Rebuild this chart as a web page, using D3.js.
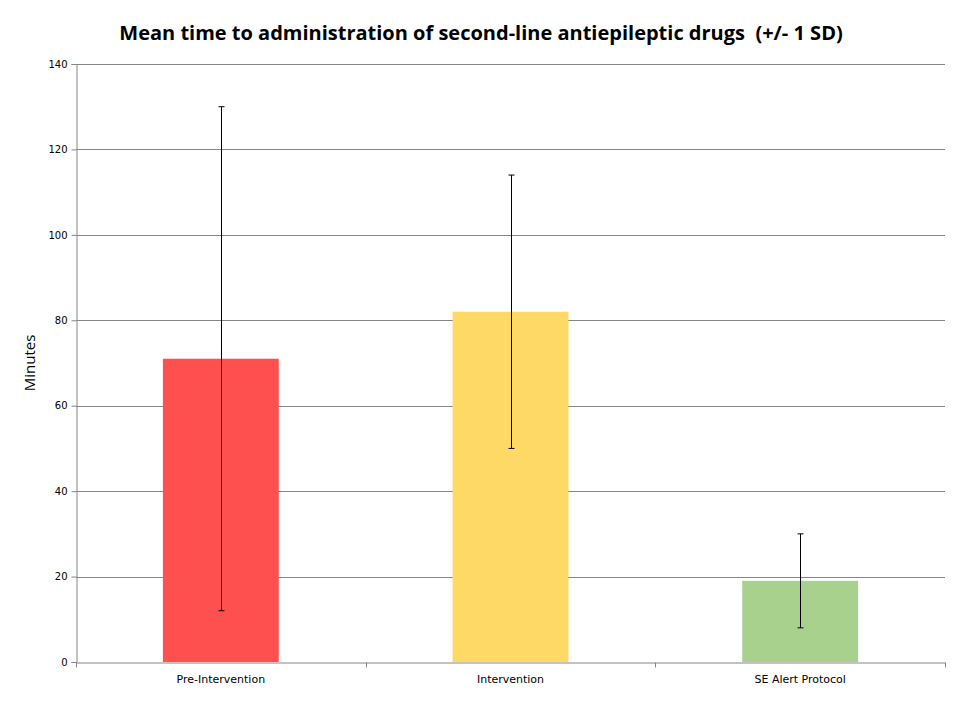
<!DOCTYPE html>
<html>
<head>
<meta charset="utf-8">
<script src="https://cdn.jsdelivr.net/npm/d3@7"></script>
<style>
  body { margin: 0; background: #fff; }
  .tick text { font-family: "DejaVu Sans", Tahoma, sans-serif; font-size: 10px; fill: #000; }
  .x-axis .tick text { font-size: 11px; }
  .domain, .tick line { stroke: #868686; }
</style>
</head>
<body>
<div id="wrapper"></div>
<script>
const categories = ["Pre-Intervention", "Intervention", "SE Alert Protocol"]
const meanMinutes = [71, 82, 19]
const sdMinutes = [59, 32, 11]
const barColors = ["#FF5050", "#FFD966", "#A9D18E"]
const yTicks = [0, 20, 40, 60, 80, 100, 120, 140]

function drawBarChart() {
    const dataset = categories.map((c, i) => ({category: c, mean: meanMinutes[i], sd: sdMinutes[i], color: barColors[i]}))

    let dimensions = {
        width: 960,
        height: 720,
        margin: {top: 64, right: 15, bottom: 58, left: 76},
    }
    dimensions.boundedWidth = dimensions.width - dimensions.margin.left - dimensions.margin.right
    dimensions.boundedHeight = dimensions.height - dimensions.margin.top - dimensions.margin.bottom

    const wrapper = d3.select("#wrapper")
        .append("svg")
        .attr("width", dimensions.width)
        .attr("height", dimensions.height)

    const bounds = wrapper.append("g")
        .attr("transform", `translate(${dimensions.margin.left}, ${dimensions.margin.top})`)

    const yScale = d3.scaleLinear()
        .domain([0, 140])
        .range([dimensions.boundedHeight, 0])

    const xScale = d3.scaleBand()
        .domain(categories)
        .range([0, dimensions.boundedWidth])
        .paddingInner(0.6)
        .paddingOuter(0.3)

    // gridlines
    bounds.append("g")
        .selectAll("line")
        .data(yTicks.slice(1))
        .join("line")
        .attr("x1", 0)
        .attr("x2", dimensions.boundedWidth)
        .attr("y1", d => Math.round(yScale(d)) + 0.5)
        .attr("y2", d => Math.round(yScale(d)) + 0.5)
        .attr("stroke", "#868686")

    // bars
    bounds.append("g")
        .selectAll("rect")
        .data(dataset)
        .join("rect")
        .attr("x", d => xScale(d.category))
        .attr("width", xScale.bandwidth())
        .attr("y", d => yScale(d.mean))
        .attr("height", d => dimensions.boundedHeight - yScale(d.mean))
        .attr("fill", d => d.color)

    // error bars
    const err = bounds.append("g")
        .selectAll("g")
        .data(dataset)
        .join("g")
        .attr("transform", d => `translate(${Math.round(xScale(d.category) + xScale.bandwidth() / 2) + 0.5}, 0)`)
    err.append("line")
        .attr("y1", d => yScale(d.mean + d.sd))
        .attr("y2", d => yScale(d.mean - d.sd))
        .attr("stroke", "#000")
    err.append("line")
        .attr("x1", -3).attr("x2", 3)
        .attr("y1", d => yScale(d.mean + d.sd))
        .attr("y2", d => yScale(d.mean + d.sd))
        .attr("stroke", "#000")
    err.append("line")
        .attr("x1", -3).attr("x2", 3)
        .attr("y1", d => yScale(d.mean - d.sd))
        .attr("y2", d => yScale(d.mean - d.sd))
        .attr("stroke", "#000")

    // axes
    const yAxisGenerator = d3.axisLeft(yScale)
        .tickValues(yTicks)
        .tickSize(5)
        .tickPadding(4)
    bounds.append("g")
        .attr("class", "y-axis")
        .attr("transform", "translate(0.5, 0)")
        .call(yAxisGenerator)

    const xAxisGenerator = d3.axisBottom(xScale)
        .tickSize(0)
        .tickPadding(13)
        .tickSizeOuter(0)
    const xAxis = bounds.append("g")
        .attr("class", "x-axis")
        .attr("transform", `translate(0, ${Math.round(dimensions.boundedHeight) + 0.5})`)
        .call(xAxisGenerator)

    // category separators
    const seps = d3.range(categories.length + 1).map(i => i * dimensions.boundedWidth / categories.length)
    xAxis.append("g")
        .selectAll("line")
        .data(seps)
        .join("line")
        .attr("x1", d => Math.round(d) + 0.5)
        .attr("x2", d => Math.round(d) + 0.5)
        .attr("y1", 0)
        .attr("y2", 5)
        .attr("stroke", "#868686")

    // title
    wrapper.append("text")
        .attr("x", 481)
        .attr("y", 40)
        .attr("text-anchor", "middle")
        .style("font-family", "'Open Sans', sans-serif")
        .style("font-weight", "bold")
        .style("font-size", "20px")
        .style("white-space", "pre")
        .text("Mean time to administration of second-line antiepileptic drugs  (+/- 1 SD)")

    // y label
    wrapper.append("text")
        .attr("transform", "translate(35, 363) rotate(-90)")
        .attr("text-anchor", "middle")
        .style("font-family", "'Open Sans', sans-serif")
        .style("font-size", "15px")
        .text("Minutes")
}

drawBarChart()
</script>
</body>
</html>
